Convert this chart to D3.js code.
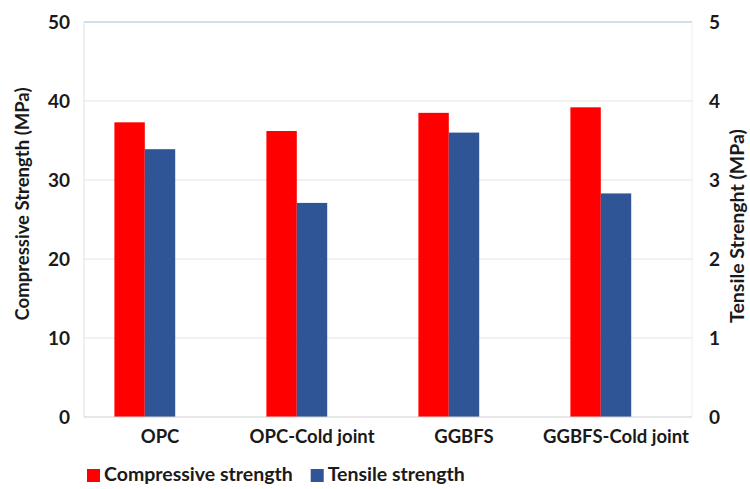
<!DOCTYPE html>
<html>
<head>
<meta charset="utf-8">
<script src="https://cdn.jsdelivr.net/npm/d3@7"></script>
<style>
  html, body { margin: 0; padding: 0; background: #fff; }
  svg text { font-family: Lato, "Open Sans", sans-serif; font-weight: 700; fill: #1a1a1a; }
</style>
</head>
<body>
<svg id="chart" width="750" height="489"></svg>
<script>
// Mix types shown on the category axis
const categories = ["OPC", "OPC-Cold joint", "GGBFS", "GGBFS-Cold joint"];
// Compressive strength, MPa (left axis)
const compressive = [37.3, 36.2, 38.5, 39.2];
// Splitting tensile strength, MPa (right axis)
const tensile = [3.39, 2.71, 3.60, 2.83];
// Axis tick values
const leftTicks = [0, 10, 20, 30, 40, 50];
const rightTicks = [0, 1, 2, 3, 4, 5];

const svg = d3.select("#chart");
const m = { left: 84, right: 692, top: 22, bottom: 417 };

const x = d3.scaleBand().domain(categories).range([m.left, m.right]);
// Three slots per cluster; the last one is left empty
const sub = d3.scaleBand().domain(["c", "t", "gap"])
  .range([x.bandwidth() / 5, x.bandwidth() * 4 / 5]);
const yL = d3.scaleLinear().domain([0, 50]).range([m.bottom, m.top]);
const yR = d3.scaleLinear().domain([0, 5]).range([m.bottom, m.top]);

// Horizontal gridlines
svg.append("g").selectAll("line")
  .data(leftTicks.filter(t => t > 0 && t < 50))
  .join("line")
  .attr("x1", m.left).attr("x2", m.right)
  .attr("y1", d => yL(d)).attr("y2", d => yL(d))
  .attr("stroke", "#e3e3e3").attr("stroke-width", 1);
// Top border line
svg.append("line")
  .attr("x1", m.left).attr("x2", m.right)
  .attr("y1", yL(50)).attr("y2", yL(50))
  .attr("stroke", "#9cc2d8").attr("stroke-width", 1.2);
// Left and right frame lines
svg.append("line").attr("x1", m.left).attr("x2", m.left)
  .attr("y1", m.top).attr("y2", m.bottom).attr("stroke", "#e0e0e0");
svg.append("line").attr("x1", m.right).attr("x2", m.right)
  .attr("y1", m.top).attr("y2", m.bottom).attr("stroke", "#eeeeee");

// Bars
const groups = svg.append("g").selectAll("g")
  .data(categories.map((c, i) => ({ c, comp: compressive[i], ten: tensile[i] })))
  .join("g")
  .attr("transform", d => `translate(${x(d.c)},0)`);
groups.append("rect")
  .attr("x", sub("c")).attr("width", sub.bandwidth())
  .attr("y", d => yL(d.comp)).attr("height", d => yL(0) - yL(d.comp))
  .attr("fill", "#ff0000");
groups.append("rect")
  .attr("x", sub("t")).attr("width", sub.bandwidth())
  .attr("y", d => yR(d.ten)).attr("height", d => yR(0) - yR(d.ten))
  .attr("fill", "#2f5597");

// Baseline
svg.append("line")
  .attr("x1", m.left).attr("x2", m.right)
  .attr("y1", m.bottom).attr("y2", m.bottom)
  .attr("stroke", "#d0d0d0").attr("stroke-width", 1.2);

// Left axis
const axL = svg.append("g").attr("transform", `translate(${m.left},0)`)
  .call(d3.axisLeft(yL).tickValues(leftTicks).tickSize(0).tickPadding(14));
axL.select(".domain").remove();
axL.selectAll("text").style("font-size", "19px");

// Right axis
const axR = svg.append("g").attr("transform", `translate(${m.right},0)`)
  .call(d3.axisRight(yR).tickValues(rightTicks).tickFormat(d3.format("d"))
    .tickSize(0).tickPadding(17));
axR.select(".domain").remove();
axR.selectAll("text").style("font-size", "19px");

// Category axis
const axX = svg.append("g").attr("transform", `translate(0,${m.bottom})`)
  .call(d3.axisBottom(x).tickSize(0).tickPadding(13));
axX.select(".domain").remove();
axX.selectAll("text").style("font-size", "18.5px");

// Axis titles
svg.append("text")
  .attr("transform", "translate(24,204) rotate(-90)")
  .attr("text-anchor", "middle").attr("dominant-baseline", "middle")
  .style("font-size", "18.5px")
  .text("Compressive Strength (MPa)");
svg.append("text")
  .attr("transform", "translate(739,226) rotate(-90)")
  .attr("text-anchor", "middle").attr("dominant-baseline", "middle")
  .style("font-size", "19.5px")
  .text("Tensile Strenght (MPa)");

// Legend
const legend = [
  { label: "Compressive strength", color: "#ff0000" },
  { label: "Tensile strength", color: "#2f5597" }
];
const lg = svg.append("g").attr("transform", "translate(87,476)");
let lx = 0;
legend.forEach(d => {
  const g = lg.append("g").attr("transform", `translate(${lx},0)`);
  g.append("rect").attr("x", 0).attr("y", -7).attr("width", 13).attr("height", 13).attr("fill", d.color);
  const t = g.append("text").attr("x", 17).attr("dominant-baseline", "middle")
    .style("font-size", "19.5px").text(d.label);
  lx += 17 + t.node().getComputedTextLength() + 18;
});
</script>
</body>
</html>
